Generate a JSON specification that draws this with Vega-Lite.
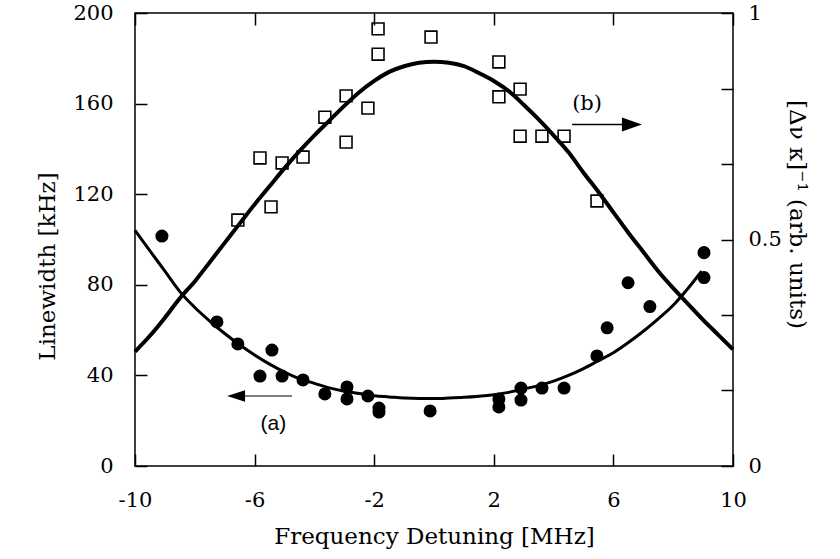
{
  "$schema": "https://vega.github.io/schema/vega-lite/v6.json",
  "width": 598,
  "height": 453,
  "autosize": {"type": "none"},
  "padding": {"left": 135, "top": 13, "right": 107, "bottom": 93},
  "background": "white",
  "config": {
    "view": {"stroke": "black", "strokeWidth": 1.5},
    "font": "DejaVu Serif",
    "axis": {
      "domain": false, "grid": false, "tickColor": "black", "tickWidth": 1.5, "tickSize": -12,
      "labelFont": "DejaVu Serif", "labelFontSize": 21, "labelColor": "black", "labelOverlap": false, "labelFlush": false,
      "titleFont": "DejaVu Serif", "titleFontSize": 23, "titleFontWeight": "normal", "titleColor": "black",
      "titleBaseline": "middle", "titleAlign": "center"
    }
  },
  "datasets": {
    "circles": [
      {"x": -9.10, "y": 101.5}, {"x": -7.26, "y": 63.6}, {"x": -6.56, "y": 53.9}, {"x": -5.42, "y": 51.2},
      {"x": -5.82, "y": 39.7}, {"x": -5.08, "y": 39.7}, {"x": -4.38, "y": 38.0}, {"x": -3.65, "y": 31.8},
      {"x": -2.91, "y": 34.9}, {"x": -2.91, "y": 29.6}, {"x": -2.21, "y": 30.9}, {"x": -1.84, "y": 25.6},
      {"x": -1.84, "y": 23.8}, {"x": -0.13, "y": 24.3}, {"x": 2.17, "y": 29.6}, {"x": 2.17, "y": 26.1},
      {"x": 2.91, "y": 34.4}, {"x": 2.91, "y": 29.1}, {"x": 3.61, "y": 34.4}, {"x": 4.35, "y": 34.4},
      {"x": 5.45, "y": 48.6}, {"x": 5.79, "y": 61.0}, {"x": 6.49, "y": 80.9}, {"x": 7.22, "y": 70.4},
      {"x": 9.03, "y": 94.2}, {"x": 9.03, "y": 83.2}
    ],
    "squares": [
      {"x": -6.56, "y": 0.543}, {"x": -5.82, "y": 0.680}, {"x": -5.45, "y": 0.572}, {"x": -5.08, "y": 0.669},
      {"x": -4.38, "y": 0.682}, {"x": -3.65, "y": 0.770}, {"x": -2.94, "y": 0.817}, {"x": -2.94, "y": 0.715},
      {"x": -2.21, "y": 0.790}, {"x": -1.87, "y": 0.965}, {"x": -1.87, "y": 0.909}, {"x": -0.10, "y": 0.947},
      {"x": 2.17, "y": 0.892}, {"x": 2.17, "y": 0.815}, {"x": 2.88, "y": 0.832}, {"x": 2.88, "y": 0.728},
      {"x": 3.61, "y": 0.728}, {"x": 4.35, "y": 0.728}, {"x": 5.45, "y": 0.585}
    ],
    "curveA": [
      {"x": -10, "y": 104}, {"x": -9.5, "y": 95}, {"x": -9, "y": 86}, {"x": -8.5, "y": 77}, {"x": -8, "y": 70},
      {"x": -7.5, "y": 64}, {"x": -7, "y": 58.5}, {"x": -6.5, "y": 53.5}, {"x": -6, "y": 49}, {"x": -5.5, "y": 45},
      {"x": -5, "y": 41.5}, {"x": -4.5, "y": 38.5}, {"x": -4, "y": 36.5}, {"x": -3.5, "y": 34.5}, {"x": -3, "y": 33},
      {"x": -2.5, "y": 32}, {"x": -2, "y": 31}, {"x": -1.5, "y": 30.5}, {"x": -1, "y": 30}, {"x": -0.5, "y": 29.8},
      {"x": 0, "y": 29.8}, {"x": 0.5, "y": 30}, {"x": 1, "y": 30.3}, {"x": 1.5, "y": 30.8}, {"x": 2, "y": 31.5},
      {"x": 2.5, "y": 32.5}, {"x": 3, "y": 34}, {"x": 3.5, "y": 35.5}, {"x": 4, "y": 37.5}, {"x": 4.5, "y": 40},
      {"x": 5, "y": 43}, {"x": 5.5, "y": 46.5}, {"x": 6, "y": 50}, {"x": 6.5, "y": 54.5}, {"x": 7, "y": 59.5},
      {"x": 7.5, "y": 65}, {"x": 8, "y": 71}, {"x": 8.5, "y": 78.5}, {"x": 8.95, "y": 86}
    ],
    "curveB": [
      {"x": -10, "y": 0.2525}, {"x": -9.5, "y": 0.2875}, {"x": -9, "y": 0.3275}, {"x": -8.5, "y": 0.3705},
      {"x": -8, "y": 0.4075}, {"x": -7.5, "y": 0.45}, {"x": -7, "y": 0.4925}, {"x": -6.5, "y": 0.535},
      {"x": -6, "y": 0.5775}, {"x": -5.5, "y": 0.6175}, {"x": -5, "y": 0.6575}, {"x": -4.5, "y": 0.695},
      {"x": -4, "y": 0.73}, {"x": -3.5, "y": 0.7625}, {"x": -3, "y": 0.795}, {"x": -2.5, "y": 0.825},
      {"x": -2, "y": 0.85}, {"x": -1.5, "y": 0.87}, {"x": -1, "y": 0.8825}, {"x": -0.5, "y": 0.89},
      {"x": 0, "y": 0.8925}, {"x": 0.5, "y": 0.89}, {"x": 1, "y": 0.8825}, {"x": 1.5, "y": 0.8675},
      {"x": 2, "y": 0.85}, {"x": 2.5, "y": 0.8275}, {"x": 3, "y": 0.7975}, {"x": 3.5, "y": 0.765},
      {"x": 4, "y": 0.73}, {"x": 4.5, "y": 0.6925}, {"x": 5, "y": 0.6475}, {"x": 5.5, "y": 0.605},
      {"x": 6, "y": 0.56}, {"x": 6.5, "y": 0.515}, {"x": 7, "y": 0.4725}, {"x": 7.5, "y": 0.43},
      {"x": 8, "y": 0.3925}, {"x": 8.5, "y": 0.3575}, {"x": 9, "y": 0.3225}, {"x": 9.5, "y": 0.29},
      {"x": 10, "y": 0.2575}
    ],
    "arrowA": [{"x": -4.75, "x2": -6.5, "y": 30.9, "hx": -6.62}],
    "arrowB": [{"x": 4.62, "x2": 6.5, "y": 0.754, "hx": 6.62}],
    "textA": [{"x": -5.37, "y": 18.5, "label": "(a)"}],
    "textB": [{"x": 5.12, "y": 0.799, "label": "(b)"}]
  },
  "layer": [
    {
      "layer": [
        {
          "data": {"name": "curveA"},
          "mark": {"type": "line", "color": "black", "strokeWidth": 3, "interpolate": "monotone"},
          "encoding": {
            "x": {"field": "x", "type": "quantitative", "scale": {"domain": [-10, 10], "nice": false, "zero": false},
              "axis": {"orient": "bottom", "values": [-10, -6, -2, 2, 6, 10], "labelPadding": 46, "labelBaseline": "middle",
                "labelExpr": "datum.value < 0 ? '-' + abs(datum.value) : '' + datum.value",
                "title": "Frequency Detuning [MHz]", "titleX": 299, "titleY": 70}},
            "y": {"field": "y", "type": "quantitative", "scale": {"domain": [0, 200], "nice": false, "zero": false},
              "axis": {"orient": "left", "values": [0, 40, 80, 120, 160, 200], "labelPadding": 34, "labelBaseline": "middle", "labelAlign": "right",
                "title": "Linewidth [kHz]", "titleX": -88, "titleY": 253, "titleAngle": -90}}
          }
        },
        {
          "data": {"name": "circles"},
          "mark": {"type": "point", "shape": "circle", "filled": true, "color": "black", "opacity": 1, "size": 170},
          "encoding": {
            "x": {"field": "x", "type": "quantitative"},
            "y": {"field": "y", "type": "quantitative"}
          }
        },
        {
          "data": {"name": "arrowA"},
          "mark": {"type": "rule", "color": "black", "strokeWidth": 1.2},
          "encoding": {
            "x": {"field": "x", "type": "quantitative"},
            "x2": {"field": "x2"},
            "y": {"field": "y", "type": "quantitative"}
          }
        },
        {
          "data": {"name": "arrowA"},
          "mark": {"type": "point", "shape": "M 1 -0.65 L -1 0 L 1 0.65 Z", "filled": true, "color": "black", "opacity": 1, "size": 324, "strokeWidth": 0},
          "encoding": {
            "x": {"field": "hx", "type": "quantitative"},
            "y": {"field": "y", "type": "quantitative"}
          }
        },
        {
          "data": {"name": "textA"},
          "mark": {"type": "text", "font": "Liberation Sans", "fontSize": 21, "color": "black", "align": "center", "baseline": "middle"},
          "encoding": {
            "x": {"field": "x", "type": "quantitative"},
            "y": {"field": "y", "type": "quantitative"},
            "text": {"field": "label"}
          }
        }
      ]
    },
    {
      "layer": [
        {
          "data": {"name": "curveB"},
          "mark": {"type": "line", "color": "black", "strokeWidth": 4, "interpolate": "monotone"},
          "encoding": {
            "x": {"field": "x", "type": "quantitative",
              "axis": {"orient": "top", "values": [-10, -6, -2, 2, 6, 10], "labels": false, "title": null}},
            "y": {"field": "y", "type": "quantitative", "scale": {"domain": [0, 1], "nice": false, "zero": false},
              "axis": {"orient": "right", "values": [0, 0.16667, 0.33333, 0.5, 0.66667, 0.83333, 1], "labelPadding": 27, "labelBaseline": "middle", "labelAlign": "left",
                "labelExpr": "datum.value == 0 ? '0' : (datum.value == 1 ? '1' : (abs(datum.value - 0.5) < 0.01 ? '0.5' : ''))",
                "title": "[Δν κ]⁻¹ (arb. units)", "titleX": 63, "titleY": 201, "titleAngle": 90}}
          }
        },
        {
          "data": {"name": "squares"},
          "mark": {"type": "point", "shape": "square", "filled": false, "color": "black", "fill": "white", "fillOpacity": 0, "opacity": 1, "strokeWidth": 1.6, "size": 140},
          "encoding": {
            "x": {"field": "x", "type": "quantitative"},
            "y": {"field": "y", "type": "quantitative"}
          }
        },
        {
          "data": {"name": "arrowB"},
          "mark": {"type": "rule", "color": "black", "strokeWidth": 1.5},
          "encoding": {
            "x": {"field": "x", "type": "quantitative"},
            "x2": {"field": "x2"},
            "y": {"field": "y", "type": "quantitative"}
          }
        },
        {
          "data": {"name": "arrowB"},
          "mark": {"type": "point", "shape": "M -1 -0.7 L 1 0 L -1 0.7 Z", "filled": true, "color": "black", "opacity": 1, "size": 400, "strokeWidth": 0},
          "encoding": {
            "x": {"field": "hx", "type": "quantitative"},
            "y": {"field": "y", "type": "quantitative"}
          }
        },
        {
          "data": {"name": "textB"},
          "mark": {"type": "text", "font": "DejaVu Serif", "fontSize": 21, "color": "black", "align": "center", "baseline": "middle"},
          "encoding": {
            "x": {"field": "x", "type": "quantitative"},
            "y": {"field": "y", "type": "quantitative"},
            "text": {"field": "label"}
          }
        }
      ]
    }
  ],
  "resolve": {"scale": {"y": "independent"}, "axis": {"x": "independent", "y": "independent"}}
}
